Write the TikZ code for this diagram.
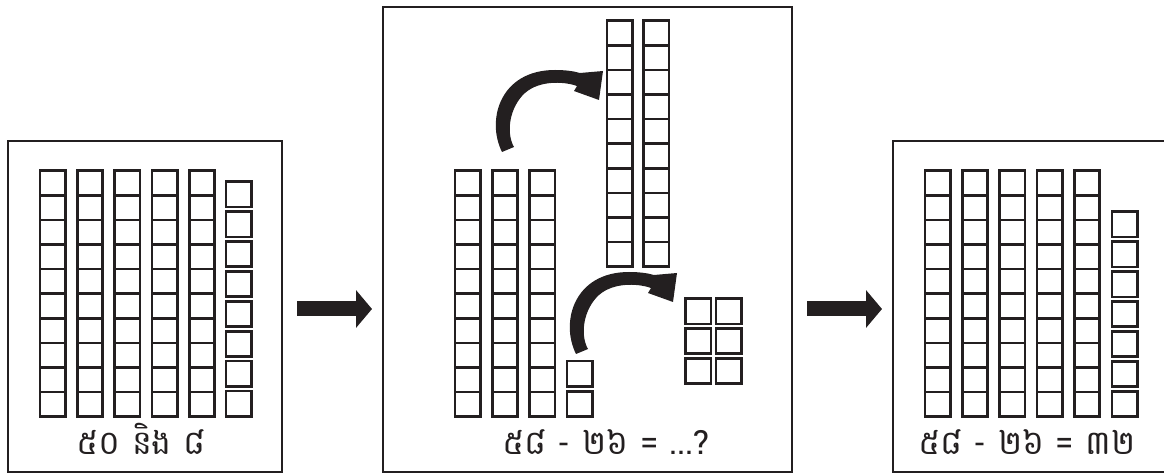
\documentclass[tikz,border=0pt]{standalone}
\usepackage{fontspec}
\newfontfamily\kh[Script=Khmer]{Battambang}
\usetikzlibrary{arrows.meta}
\definecolor{ink}{RGB}{35,31,32}
\newcommand\tenrod[2]{%
  \draw[sq] (#1,#2) rectangle ++(25.5,246);
  \foreach \k in {1,...,9} \draw[sq] (#1,#2+\k*24.6) -- ++(25.5,0);}
\newcommand\unitsq[2]{\draw[sq] (#1,#2) rectangle ++(25.5,25.3);}
\begin{document}
\begin{tikzpicture}[x=1bp,y=-1bp,
  sq/.style={draw=ink, line width=2.7bp},
  panel/.style={draw=ink, line width=2.6bp},
  fatarrow/.style={draw=ink, line width=15bp, -{Triangle[length=16bp,width=37bp]}},
  lbl/.style={anchor=base, inner sep=0pt, font=\kh\fontsize{33.5}{40}\selectfont, text=ink},
  curvedarrow/.pic={\fill[ink] (-6,2) .. controls (-22,-30) and (-8,-80) .. (47,-80)
      .. controls (57,-80) and (65,-79) .. (72,-77) -- (95,-79) -- (91,-50) -- (66,-59) -- (69,-64)
      .. controls (55,-69) and (28,-70) .. (14,-54)
      .. controls (0,-38) and (-1,-15) .. (6,-3) -- cycle;}]
\useasboundingbox (0,0) rectangle (1164,474);
\clip (0,0) rectangle (1164,474);
% panels
\draw[panel] (8,141) rectangle (282,472);
\draw[panel] (383,7) rectangle (792,472);
\draw[panel] (893,141) rectangle (1180,472);
% connectors between panels
\coordinate (a1s) at (297,309);
\coordinate (a1e) at (372,309);
\coordinate (a2s) at (807,309);
\coordinate (a2e) at (882,309);
\draw[fatarrow] (a1s) -- (a1e);
\draw[fatarrow] (a2s) -- (a2e);
% left panel: 58
\foreach \i in {0,...,4} {\tenrod{40+\i*37.3}{170.7}}
\foreach \j in {0,...,7} {\unitsq{226}{181.7+\j*29.9}}
\node[lbl] (t1) at (141,455) {៥០ និង ៨};
% middle panel
\foreach \i in {0,...,2} {\tenrod{455+\i*37.3}{170.7}}
\unitsq{567}{361}
\unitsq{567}{391.4}
\tenrod{607}{20.7}
\tenrod{643.5}{20.7}
\foreach \i in {0,1} {\foreach \j in {0,1,2} {\unitsq{685.5+\i*30.5}{298.7+\j*29.8}}}
\pic at (508,150) {curvedarrow};
\pic at (582,352) {curvedarrow};
\node[lbl] (t2) at (606,455) {៥៨ - ២៦ = ...?};
% right panel: 32 result
\foreach \i in {0,...,4} {\tenrod{925+\i*37.3}{170.7}}
\foreach \j in {0,...,6} {\unitsq{1112}{211.7+\j*29.95}}
\node[lbl] (t3) at (1027,455) {៥៨ - ២៦ = ៣២};
\end{tikzpicture}
\end{document}
